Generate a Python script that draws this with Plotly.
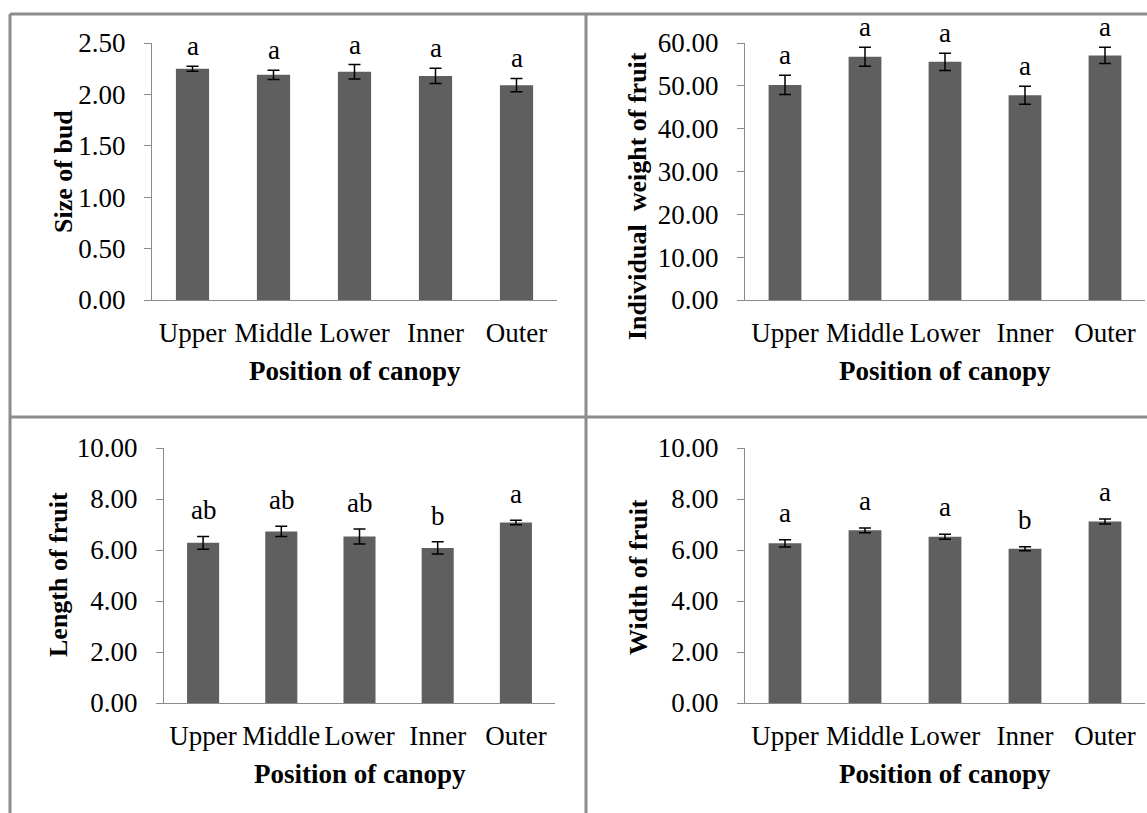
import plotly.graph_objects as go

W, H = 1147, 813

categories = ["Upper", "Middle", "Lower", "Inner", "Outer"]

bud_size = [2.25, 2.19, 2.22, 2.18, 2.09]
bud_err = [0.025, 0.045, 0.07, 0.075, 0.065]
bud_letters = ["a", "a", "a", "a", "a"]

fruit_weight = [50.2, 56.8, 55.6, 47.8, 57.1]
fruit_weight_err = [2.25, 2.2, 2.0, 2.1, 1.9]
weight_letters = ["a", "a", "a", "a", "a"]

fruit_length = [6.28, 6.73, 6.53, 6.08, 7.08]
fruit_length_err = [0.25, 0.2, 0.29, 0.24, 0.085]
length_letters = ["ab", "ab", "ab", "b", "a"]

fruit_width = [6.26, 6.77, 6.52, 6.05, 7.12]
fruit_width_err = [0.14, 0.09, 0.10, 0.08, 0.10]
width_letters = ["a", "a", "a", "b", "a"]

y_titles = ["Size of bud", "Individual  weight of fruit", "Length of fruit", "Width of fruit"]
x_title = "Position of canopy"

FONT = "Liberation Serif, Times New Roman, serif"
BAR = "#5f5f5f"
AX = "#8c8c8c"
BORDER = "#8c8c8c"
FS = 27
FS_Y = 26

def px(x):
    return x / W

def py(y):
    return 1 - y / H

# panel geometry (pixels): x0, x1, ytop, ybottom
panels = [
    dict(x0=152, x1=557, yt=43, yb=300, rng=[0, 2.5], dt=0.5,
         vals=bud_size, errs=bud_err, letters=bud_letters, shift=3,
         yt_pos=(63, 172)),
    dict(x0=745, x1=1145, yt=43, yb=300, rng=[0, 60], dt=10,
         vals=fruit_weight, errs=fruit_weight_err, letters=weight_letters, shift=3,
         yt_pos=(637, 196)),
    dict(x0=164, x1=555, yt=448, yb=703, rng=[0, 10], dt=2,
         vals=fruit_length, errs=fruit_length_err, letters=length_letters, shift=9,
         yt_pos=(58, 575)),
    dict(x0=745, x1=1145, yt=448, yb=703, rng=[0, 10], dt=2,
         vals=fruit_width, errs=fruit_width_err, letters=width_letters, shift=10,
         yt_pos=(638, 577)),
]

fig = go.Figure()
annotations = []
for i, p in enumerate(panels):
    n = "" if i == 0 else str(i + 1)
    fig.add_trace(go.Bar(
        x=categories, y=p["vals"], marker=dict(color=BAR, line=dict(width=0)),
        error_y=dict(type="data", array=p["errs"], color="black", thickness=1.5, width=6),
        xaxis="x" + n, yaxis="y" + n, showlegend=False,
    ))
    fig.layout["xaxis" + n] = dict(
        domain=[px(p["x0"]), px(p["x1"])], anchor="y" + n,
        showline=True, linecolor=AX, linewidth=1, ticks="",
        tickfont=dict(family=FONT, size=FS, color="black"),
        ticklabelstandoff=9, showgrid=False, zeroline=False, fixedrange=True,
        automargin=False,
    )
    fig.layout["yaxis" + n] = dict(
        domain=[py(p["yb"]), py(p["yt"])], anchor="x" + n,
        range=p["rng"], dtick=p["dt"], tick0=0, tickformat=".2f",
        showline=True, linecolor=AX, linewidth=1,
        ticks="outside", ticklen=7, tickcolor=AX, tickwidth=1,
        tickfont=dict(family=FONT, size=FS, color="black"),
        ticklabelstandoff=13, showgrid=False, zeroline=False, fixedrange=True,
        automargin=False,
    )
    for c, v, e, t in zip(categories, p["vals"], p["errs"], p["letters"]):
        annotations.append(dict(
            x=c, y=v + e, xref="x" + n, yref="y" + n, text=t, showarrow=False,
            yanchor="bottom", yshift=p["shift"],
            font=dict(family=FONT, size=FS, color="black"),
        ))
    annotations.append(dict(
        x=px(p["yt_pos"][0]), y=py(p["yt_pos"][1]), xref="paper", yref="paper",
        text="<b>" + y_titles[i] + "</b>", textangle=-90, showarrow=False,
        xanchor="center", yanchor="middle",
        font=dict(family=FONT, size=FS_Y, color="black"),
    ))
    annotations.append(dict(
        x=px((p["x0"] + p["x1"]) / 2), y=py(p["yb"] + 71), xref="paper", yref="paper",
        text="<b>" + x_title + "</b>", showarrow=False,
        xanchor="center", yanchor="middle",
        font=dict(family=FONT, size=FS, color="black"),
    ))

shapes = [
    dict(type="line", xref="paper", yref="paper", x0=px(10), x1=1, y0=py(14), y1=py(14),
         line=dict(color=BORDER, width=3)),
    dict(type="line", xref="paper", yref="paper", x0=px(10), x1=px(10), y0=py(14), y1=0,
         line=dict(color=BORDER, width=3)),
    dict(type="line", xref="paper", yref="paper", x0=px(586), x1=px(586), y0=py(14), y1=0,
         line=dict(color=BORDER, width=3)),
    dict(type="line", xref="paper", yref="paper", x0=px(10), x1=1, y0=py(417), y1=py(417),
         line=dict(color=BORDER, width=3)),
]

fig.update_layout(
    width=W, height=H, autosize=False, margin=dict(l=0, r=0, t=0, b=0, pad=0),
    paper_bgcolor="white", plot_bgcolor="white",
    bargap=0.59, annotations=annotations, shapes=shapes,
    font=dict(family=FONT, color="black"),
)

fig.write_html(
    "out.html",
    config={"displayModeBar": False},
    post_script="document.body.style.margin='0';document.body.style.overflow='hidden';",
)
